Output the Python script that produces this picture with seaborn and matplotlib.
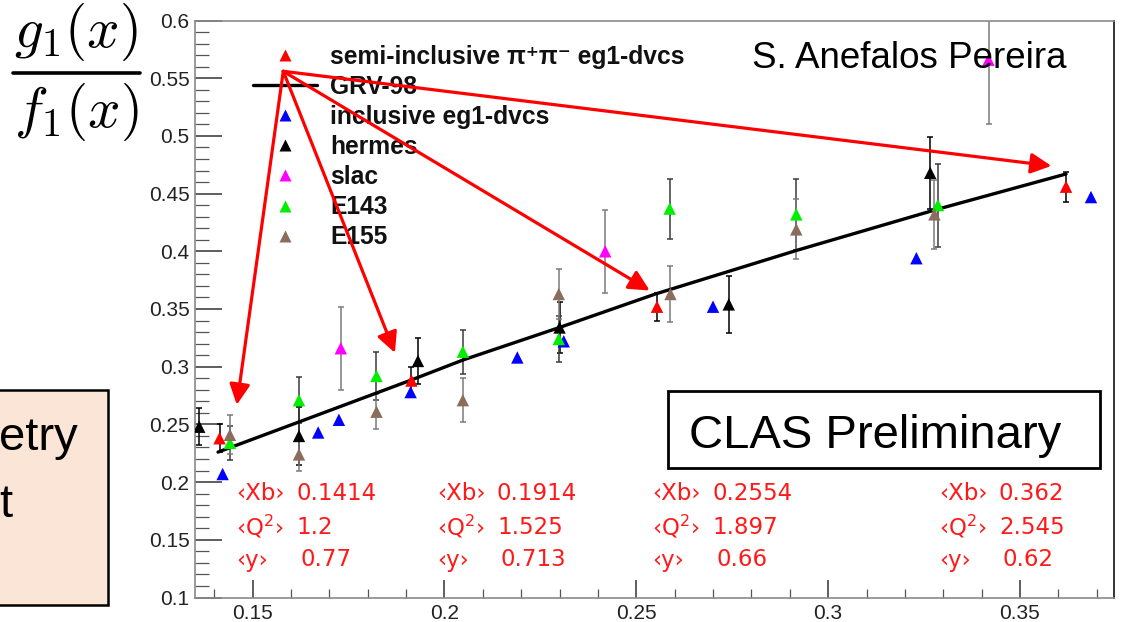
import matplotlib
matplotlib.use("Agg")
import matplotlib.pyplot as plt
import numpy as np
import pandas as pd
import seaborn as sns
from matplotlib.lines import Line2D
from matplotlib.patches import Rectangle
from matplotlib.ticker import FixedLocator, MultipleLocator, FuncFormatter

# ---------------- data ----------------
# semi-inclusive pi+pi- eg1-dvcs
semi_x = [0.1414, 0.1914, 0.2554, 0.362]
semi_y = [0.238, 0.288, 0.352, 0.456]
semi_err = [0.012, 0.012, 0.012, 0.013]

# inclusive eg1-dvcs
incl_x = [0.1422, 0.1671, 0.1725, 0.1912, 0.2190, 0.2311, 0.2700, 0.3230, 0.3685]
incl_y = [0.207, 0.243, 0.254, 0.278, 0.308, 0.322, 0.352, 0.394, 0.447]

# HERMES
hermes_x = [0.1361, 0.1621, 0.1931, 0.2300, 0.2741, 0.3266]
hermes_y = [0.248, 0.240, 0.305, 0.334, 0.354, 0.468]
hermes_err = [0.016, 0.025, 0.020, 0.022, 0.025, 0.031]

# SLAC
slac_x = [0.1730, 0.2419, 0.3418]
slac_y = [0.316, 0.400, 0.566]
slac_err = [0.036, 0.036, 0.056]

# E143
e143_x = [0.1441, 0.1621, 0.1823, 0.2048, 0.2298, 0.2587, 0.2917, 0.3286]
e143_y = [0.234, 0.271, 0.292, 0.313, 0.324, 0.437, 0.432, 0.440]
e143_err = [0.015, 0.020, 0.021, 0.019, 0.020, 0.026, 0.031, 0.036]

# E155
e155_x = [0.1441, 0.1621, 0.1823, 0.2048, 0.2298, 0.2589, 0.2917, 0.3277]
e155_y = [0.241, 0.224, 0.261, 0.271, 0.363, 0.363, 0.419, 0.432]
e155_err = [0.017, 0.014, 0.015, 0.019, 0.022, 0.024, 0.026, 0.030]

# GRV-98 curve
grv_x = [0.141, 0.162, 0.191, 0.205, 0.230, 0.255, 0.292, 0.328, 0.362]
grv_y = [0.226, 0.252, 0.288, 0.306, 0.334, 0.363, 0.401, 0.436, 0.467]

# kinematic bin averages
bin_xb = [0.1414, 0.1914, 0.2554, 0.362]
bin_q2 = [1.2, 1.525, 1.897, 2.545]
bin_yb = [0.77, 0.713, 0.66, 0.62]

x_ticks = [0.15, 0.2, 0.25, 0.3, 0.35]
y_ticks = [0.1, 0.15, 0.2, 0.25, 0.3, 0.35, 0.4, 0.45, 0.5, 0.55, 0.6]

# ---------------- style ----------------
sns.set_theme(style="white")
plt.rcParams["font.family"] = ["Liberation Sans", "DejaVu Sans"]

W, H = 1121, 622
fig = plt.figure(figsize=(W / 100, H / 100), dpi=100)
fig.patch.set_facecolor("white")


def fx(px):
    return px / W


def fy(py):
    return 1 - py / H


ax = fig.add_axes([fx(195), fy(597.5), (1114 - 195) / W, (597.5 - 20.5) / H])
ax.set_facecolor("white")

semi_label = "semi-inclusive π⁺π⁻ eg1-dvcs"
series = [
    ("inclusive eg1-dvcs", incl_x, incl_y, None, "#0000ff", None),
    ("hermes", hermes_x, hermes_y, hermes_err, "#000000", "#000000"),
    ("slac", slac_x, slac_y, slac_err, "#ff00ff", "#7a7a7a"),
    ("E143", e143_x, e143_y, e143_err, "#00ee00", "#3a3a3a"),
    ("E155", e155_x, e155_y, e155_err, "#8a6d5c", "#7a7a7a"),
    (semi_label, semi_x, semi_y, semi_err, "#ff0000", "#000000"),
]

frames = []
for name, xs, ys, es, col, ecol in series:
    frames.append(pd.DataFrame({"x": xs, "y": ys, "series": name}))
    if es is not None:
        ax.errorbar(xs, ys, yerr=es, fmt="none", ecolor=ecol, elinewidth=1.1,
                    capsize=2.5, capthick=1.1, zorder=2)
df = pd.concat(frames, ignore_index=True)
palette = {name: col for name, _, _, _, col, _ in series}

sns.lineplot(x=grv_x, y=grv_y, color="black", linewidth=2.4, ax=ax, zorder=3,
             estimator=None, sort=False)
sns.scatterplot(data=df, x="x", y="y", hue="series", palette=palette, marker="^",
                s=80, edgecolor="none", legend=False, ax=ax, zorder=4)

ax.set_xlim(0.135, 0.3745)
ax.set_ylim(0.1, 0.6)
ax.set_xlabel("")
ax.set_ylabel("")

ax.xaxis.set_major_locator(FixedLocator(x_ticks))
ax.yaxis.set_major_locator(FixedLocator(y_ticks))
ax.xaxis.set_minor_locator(MultipleLocator(0.01))
ax.yaxis.set_minor_locator(MultipleLocator(0.01))
fmt = FuncFormatter(lambda v, p: f"{v:g}")
ax.xaxis.set_major_formatter(fmt)
ax.yaxis.set_major_formatter(fmt)

ax.tick_params(axis="y", which="major", direction="in", length=19.5, width=1.1,
               color="#333333", labelsize=15, labelcolor="#222222", pad=4,
               left=True, right=False)
ax.tick_params(axis="y", which="minor", direction="in", length=10, width=0.9,
               color="#555555", left=True, right=False)
ax.tick_params(axis="x", which="major", direction="in", length=13, width=1.1,
               color="#333333", labelsize=15, labelcolor="#222222", pad=5,
               bottom=True, top=False)
ax.tick_params(axis="x", which="minor", direction="in", length=6.5, width=0.9,
               color="#555555", bottom=True, top=False)

for side in ["left", "bottom", "top"]:
    ax.spines[side].set_color("#8a8a8a")
    ax.spines[side].set_linewidth(1.2)
ax.spines["right"].set_color("#333333")
ax.spines["right"].set_linewidth(1.4)

# legend
legend_order = [
    (semi_label, "#ff0000"),
    ("GRV-98", None),
    ("inclusive eg1-dvcs", "#0000ff"),
    ("hermes", "#000000"),
    ("slac", "#ff00ff"),
    ("E143", "#00ee00"),
    ("E155", "#8a6d5c"),
]
handles = []
for name, col in legend_order:
    if col is None:
        handles.append(Line2D([], [], color="black", linewidth=2.4))
    else:
        handles.append(Line2D([], [], linestyle="none", marker="^", markersize=9,
                              markerfacecolor=col, markeredgecolor="none"))
leg = ax.legend(handles, [n for n, _ in legend_order], loc="upper left",
                bbox_to_anchor=(fx(253), fy(45)), bbox_transform=fig.transFigure,
                frameon=False, borderaxespad=0, borderpad=0,
                handlelength=2.6, handletextpad=0.55, labelspacing=0.245,
                prop={"family": ["Liberation Sans", "DejaVu Sans"], "weight": "bold",
                      "size": 17.7})
for t in leg.get_texts():
    t.set_color("#111111")

# arrows from the legend marker to the semi-inclusive points
arrow_origin = (0.158, 0.556)
arrow_tips = [(0.1459, 0.267), (0.1871, 0.312), (0.2535, 0.366), (0.3582, 0.474)]
for tip in arrow_tips:
    ax.annotate("", xy=tip, xytext=arrow_origin, xycoords="data",
                arrowprops=dict(arrowstyle="-|>", color="#ff0000", lw=2.3,
                                mutation_scale=31, shrinkA=0, shrinkB=0),
                zorder=6)

# kinematic bin labels
col_px = [236, 437, 652, 939]
row_py = [493, 527, 560]
red_font = dict(family="DejaVu Sans", size=16.5, color="#ff1a1a", va="center", ha="left")
for cx, xb, q2, yb in zip(col_px, bin_xb, bin_q2, bin_yb):
    fig.text(fx(cx), fy(row_py[0]), "‹Xb›", **red_font)
    fig.text(fx(cx + 60), fy(row_py[0]), f"{xb:g}", **red_font)
    fig.text(fx(cx), fy(row_py[1]), "‹Q$^{2}$›", math_fontfamily="dejavusans", **red_font)
    fig.text(fx(cx + 60), fy(row_py[1]), f"{q2:g}", **red_font)
    fig.text(fx(cx), fy(row_py[2]), "‹y›", **red_font)
    fig.text(fx(cx + 64), fy(row_py[2]), f"{yb:g}", **red_font)

# author
fig.text(fx(752), fy(68), "S. Anefalos Pereira", family="Liberation Sans", size=26.5,
         color="black", ha="left", va="baseline")

# preliminary box
fig.patches.append(Rectangle((fx(668), fy(468)), (1100 - 668) / W, (468 - 391) / H,
                             transform=fig.transFigure, facecolor="white",
                             edgecolor="black", linewidth=2, zorder=5))
fig.text(fx(875.5), fy(448), "CLAS Preliminary", family="Liberation Sans", size=34,
         color="black", ha="center", va="baseline", zorder=6)

# ratio label
fig.text(fx(76), fy(47), r"$g_1(x)$", math_fontfamily="cm", size=41, ha="center",
         va="baseline", color="black")
fig.text(fx(76), fy(127), r"$f_1(x)$", math_fontfamily="cm", size=41, ha="center",
         va="baseline", color="black")
fig.add_artist(Line2D([fx(13), fx(140)], [fy(72.7), fy(72.7)], transform=fig.transFigure,
                      color="black", linewidth=2.6))

# side box
fig.patches.append(Rectangle((fx(-3), fy(605)), 111 / W, (605 - 390) / H,
                             transform=fig.transFigure, facecolor="#fbe5d6",
                             edgecolor="black", linewidth=1.8, zorder=1))
fig.text(fx(-1), fy(450), "etry", family="Liberation Sans", size=34, color="black",
         ha="left", va="baseline", zorder=2)
fig.text(fx(-1), fy(517), "t", family="Liberation Sans", size=34, color="black",
         ha="left", va="baseline", zorder=2)

# title brackets at the top edge (only their lower tips fall inside the figure)
fig.text(fx(833), fy(-34), "(", family="Liberation Sans", size=40, color="black",
         ha="left", va="baseline")
fig.text(fx(1054), fy(-34), ")", family="Liberation Sans", size=40, color="black",
         ha="left", va="baseline")

fig.savefig("out.png", dpi=100, facecolor="white")
